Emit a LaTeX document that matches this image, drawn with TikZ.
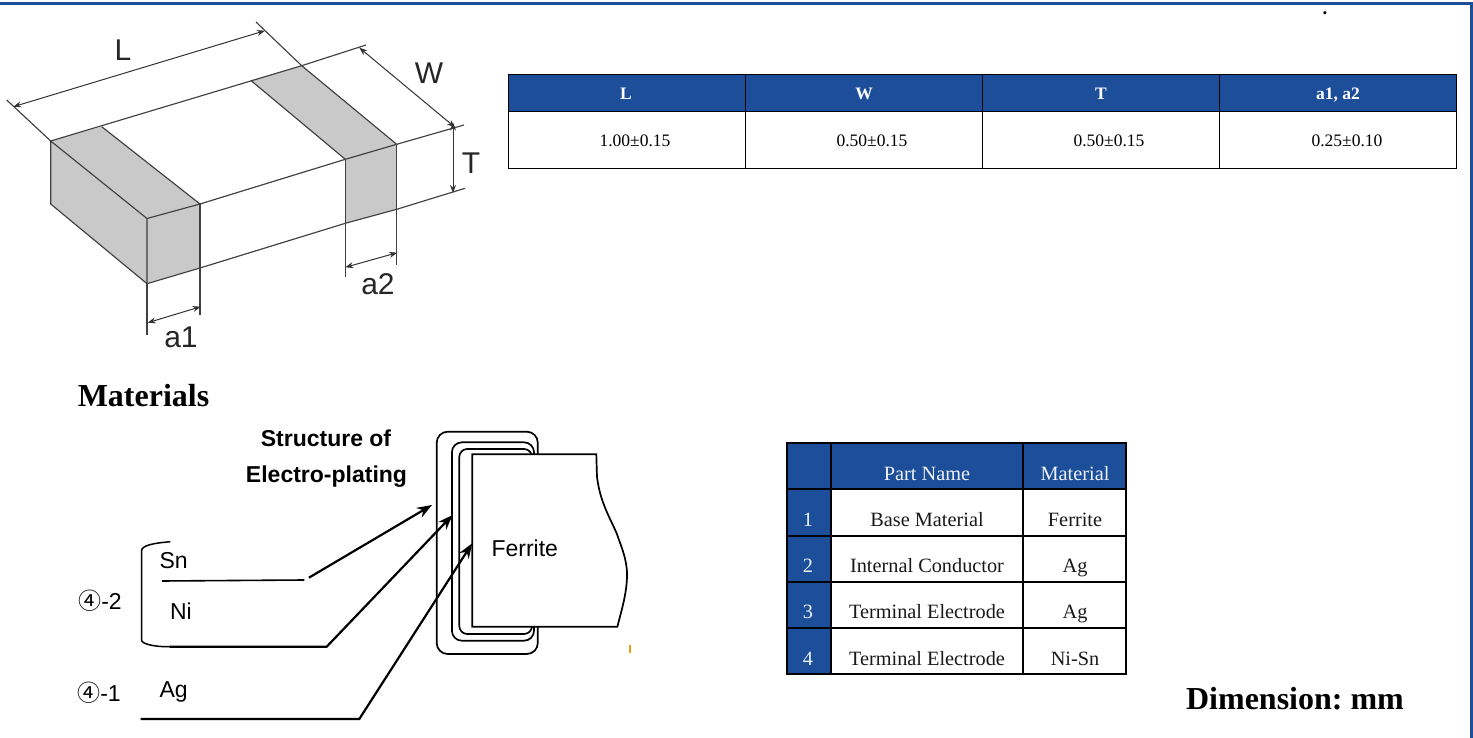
\documentclass[tikz,border=0pt]{standalone}
\usepackage{fontspec}
\setmainfont{Liberation Serif}
\setsansfont{Liberation Sans}
\newfontfamily\cjk{Noto Sans CJK JP}
\usepackage{tikz}
\usetikzlibrary{arrows.meta}
\definecolor{headblue}{HTML}{1C4E9A}
\definecolor{framegray}{HTML}{404040}
\definecolor{padgray}{HTML}{C9C9C9}
\definecolor{speck}{HTML}{E8A010}
\tikzset{
  dimline/.style={draw=framegray,line width=1.15pt},
  dimarrow/.style={draw=black!80,line width=1pt,{Stealth[length=8pt,width=6pt]}-{Stealth[length=8pt,width=6pt]}},
  dimlabel/.style={inner sep=0pt,text=black!85,font=\sffamily\fontsize{30}{32}\selectfont},
  cellhead/.style={inner sep=0pt,anchor=base,text=white,font=\bfseries\fontsize{17.5}{20}\selectfont},
  cellval/.style={inner sep=0pt,anchor=base,font=\fontsize{17.5}{20}\selectfont},
  parthead/.style={inner sep=0pt,anchor=base,text=white!92!headblue,font=\fontsize{20.3}{24}\selectfont},
  partcell/.style={inner sep=0pt,anchor=base,text=black!90,font=\fontsize{20.3}{24}\selectfont},
  bigtitle/.style={inner sep=0pt,font=\bfseries\fontsize{32}{36}\selectfont},
  sanslabel/.style={inner sep=0pt,font=\sffamily\fontsize{23}{26}\selectfont},
  sanstitle/.style={inner sep=0pt,font=\sffamily\bfseries\fontsize{23}{26}\selectfont},
  plating/.style={draw=black,line width=1.7pt,rounded corners=11pt},
  leader/.style={draw=black,line width=2.2pt},
}
\begin{document}
\begin{tikzpicture}[>={Stealth[length=15pt,width=11pt]},x=1pt,y=-1pt]
    \useasboundingbox (0,0) rectangle (1473,738);

    % frame
    \draw[headblue,line width=2.6pt] (0,3.5) -- (1471.5,3.5) -- (1471.5,738);

    % chip corners
    \coordinate (tl) at (50.7,141);
    \coordinate (bl) at (50.7,204);
    \coordinate (fr) at (147,218.5);
    \coordinate (fb) at (147,283.7);
    \coordinate (pa) at (200,204);
    \coordinate (pb) at (200,268);
    \coordinate (pc) at (101.7,126.7);
    \coordinate (qa) at (301.7,65.7);
    \coordinate (qb) at (250.7,80.3);
    \coordinate (qc) at (396.7,144.3);
    \coordinate (qd) at (345.3,159.3);
    \coordinate (qe) at (345.3,223.3);
    \coordinate (qf) at (396.7,209.3);

    % electrodes
    \fill[padgray] (tl) -- (pc) -- (pa) -- (pb) -- (fb) -- (bl) -- cycle;
    \fill[padgray] (qb) -- (qa) -- (qc) -- (qf) -- (qe) -- (qd) -- cycle;

    % chip edges
    \draw[dimline] (tl) -- (bl) -- (fb) -- (fr) -- cycle;
    \draw[dimline] (tl) -- (qa);
    \draw[dimline] (fr) -- (pa) -- (pc);
    \draw[dimline] (pa) -- (qd) -- (qc) -- (qa);
    \draw[dimline] (qd) -- (qb);
    \draw[dimline] (fb) -- (pb) -- (qe) -- (qf);
    \draw[dimline] (qd) -- (qe);
    \draw[dimline] (qc) -- (qf);
    \draw[dimline] (pa) -- (pb);

    % extension lines
    \coordinate (extL1) at (6.7,100);
    \coordinate (extL2) at (256,22);
    \coordinate (extW) at (366,45);
    \coordinate (extT1) at (464,125);
    \coordinate (extT2) at (465,188.3);
    \coordinate (exta1) at (147,335);
    \coordinate (exta2) at (200,315);
    \coordinate (exta3) at (345.3,276.7);
    \coordinate (exta4) at (396.7,265);
    \draw[dimline] (tl) -- (extL1);
    \draw[dimline] (qa) -- (extL2);
    \draw[dimline] (qa) -- (extW);
    \draw[dimline] (qc) -- (extT1);
    \draw[dimline] (qf) -- (extT2);
    \draw[dimline] (fb) -- (exta1);
    \draw[dimline] (pb) -- (exta2);
    \draw[dimline] (qe) -- (exta3);
    \draw[dimline] (qf) -- (exta4);

    % dimension arrows
    \coordinate (arL1) at (13.3,106.7);
    \coordinate (arL2) at (265,30.7);
    \coordinate (arW1) at (359.3,47.7);
    \coordinate (arW2) at (455,127.3);
    \coordinate (arT1) at (453,122.5);
    \coordinate (arT2) at (453,193);
    \coordinate (ara1) at (147.7,322.7);
    \coordinate (ara2) at (200.7,306.7);
    \coordinate (ara3) at (345.3,267.3);
    \coordinate (ara4) at (397.3,252.7);
    \draw[dimarrow] (arL1) -- (arL2);
    \draw[dimarrow] (arW1) -- (arW2);
    \draw[dimarrow] (arT1) -- (arT2);
    \draw[dimarrow] (ara1) -- (ara2);
    \draw[dimarrow] (ara3) -- (ara4);

    \node[dimlabel] (dimL) at (123,50) {L};
    \node[dimlabel] (dimW) at (429,73) {W};
    \node[dimlabel] (dimT) at (471,163) {T};
    \node[dimlabel] (dima1) at (181,337) {a1};
    \node[dimlabel] (dima2) at (378,284) {a2};

    % dimension table
    \fill[headblue] (508,74.6) rectangle (1456,111.6);
    \draw[black,line width=1pt] (508,74.6) rectangle (1456,168.6);
    \draw[black,line width=1pt] (508,111.6) -- (1456,111.6);
    \foreach \colx in {745,982,1219}
        \draw[black,line width=1pt] (\colx,74.6) -- (\colx,168.6);

    \node[cellhead] (headL) at (626,99.8) {L};
    \node[cellhead] (headW) at (864,99.8) {W};
    \node[cellhead] (headT) at (1101,99.8) {T};
    \node[cellhead] (heada) at (1338,99.8) {a1, a2};
    \node[cellval] (valL) at (635,146.8) {1.00±0.15};
    \node[cellval] (valW) at (872,146.8) {0.50±0.15};
    \node[cellval] (valT) at (1109,146.8) {0.50±0.15};
    \node[cellval] (vala) at (1347,146.8) {0.25±0.10};

    \node[inner sep=0pt,font=\bfseries\fontsize{19}{21}\selectfont] (dot) at (1325,13.5) {.};

    \node[bigtitle] (materials) at (143.5,396) {Materials};
    \node[bigtitle] (dimension) at (1295,698.5) {Dimension:\ mm};

    % plating structure
    \node[sanstitle] (title1) at (326,438.6) {Structure of};
    \node[sanstitle] (title2) at (326.5,476.5) {Electro-plating};

    \draw[plating] (436.7,431.7) rectangle (537.8,654);
    \draw[plating,rounded corners=10pt] (451.9,442.3) rectangle (534,640.7);
    \draw[plating,rounded corners=8pt] (459.3,449) rectangle (532,634);
    \draw[draw=black,line width=1.7pt,fill=white] (472.2,454.3) -- (596.3,454.3) -- (597,477)
        .. controls (599,492) and (602,500) .. (606,510)
        .. controls (611,522) and (616,530) .. (619,540)
        .. controls (624,553) and (627.5,565) .. (627,577)
        .. controls (626.5,595) and (621,612) .. (617.4,626.7) -- (472.2,626.7) -- cycle;

    \node[sanslabel] (ferrite) at (524.8,548) {Ferrite};
    \node[sanslabel] (sn) at (173.7,560.7) {Sn};
    \node[sanslabel] (ni) at (181,611) {Ni};
    \node[sanslabel] (ag) at (173.7,692) {Ag};
    \node[sanslabel] (lay2) at (100,601) {{\cjk ④}-2};
    \node[sanslabel] (lay1) at (99,693) {{\cjk ④}-1};

    % leaders
    \coordinate (snA) at (161.9,581);
    \coordinate (snB) at (304.4,580);
    \coordinate (snC) at (308.9,577.7);
    \coordinate (snD) at (432,505);
    \coordinate (niA) at (169.3,646.7);
    \coordinate (niB) at (326.7,646.7);
    \coordinate (niC) at (452.6,515);
    \coordinate (agA) at (140.7,719);
    \coordinate (agB) at (359.3,719);
    \coordinate (agC) at (472.2,543.3);
    \coordinate (brA) at (170.4,541.7);
    \coordinate (brB) at (141.5,551);

    \draw[leader,line width=1.6pt] (snA) -- (snB);
    \draw[leader,->] (snC) -- (snD);
    \draw[leader,->] (niA) -- (niB) -- (niC);
    \draw[leader,->] (agA) -- (agB) -- (agC);
    \draw[draw=black,line width=1.5pt] (brA) .. controls (155,543) and (141.5,545) .. (brB)
        -- (141.5,640) .. controls (141.5,644) and (155,647) .. (niA);

    \draw[speck,line width=1.1pt] (630,645) -- (630,653);

    % parts table
    \fill[headblue] (786.7,442.7) rectangle (1126,489.3);
    \fill[headblue] (786.7,442.7) rectangle (831,674);
    \draw[black,line width=2pt] (786.7,442.7) rectangle (1126,674);
    \foreach \rowy in {489.3,536,582,628}
        \draw[black,line width=2pt] (786.7,\rowy) -- (1126,\rowy);
    \foreach \colx in {831,1023}
        \draw[black,line width=2pt] (\colx,442.7) -- (\colx,674);

    \node[parthead] (hpart) at (927,480) {Part Name};
    \node[parthead] (hmat) at (1075,480) {Material};
    \node[parthead] (n1) at (808,526) {1};
    \node[parthead] (n2) at (808,572.3) {2};
    \node[parthead] (n3) at (808,618.3) {3};
    \node[parthead] (n4) at (808,665) {4};
    \node[partcell] (p1) at (927,526) {Base Material};
    \node[partcell] (p2) at (927,572.3) {Internal Conductor};
    \node[partcell] (p3) at (927,618.3) {Terminal Electrode};
    \node[partcell] (p4) at (927,665) {Terminal Electrode};
    \node[partcell] (m1) at (1075,526) {Ferrite};
    \node[partcell] (m2) at (1075,572.3) {Ag};
    \node[partcell] (m3) at (1075,618.3) {Ag};
    \node[partcell] (m4) at (1075,665) {Ni-Sn};
\end{tikzpicture}
\end{document}
